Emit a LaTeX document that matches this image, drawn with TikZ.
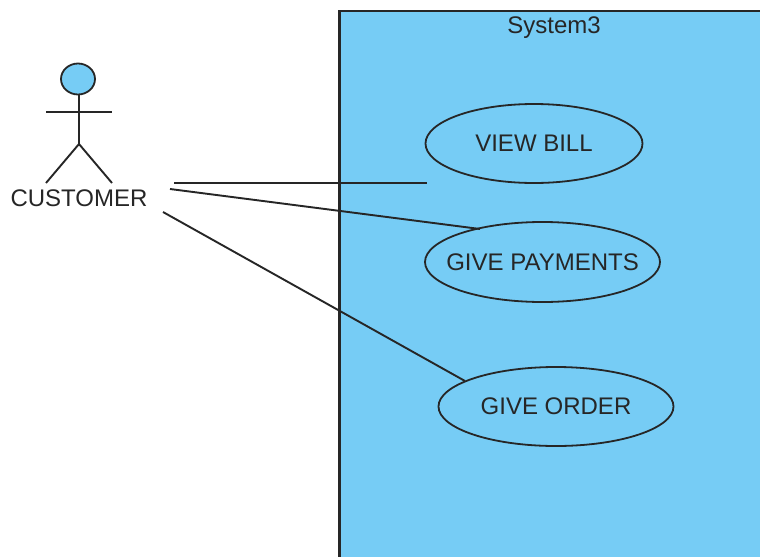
\documentclass[tikz,border=0pt]{standalone}
\usepackage{fontspec}
\setmainfont{Liberation Sans}
\usetikzlibrary{shapes.geometric}
\definecolor{sysblue}{HTML}{76CCF5}
\definecolor{ink}{HTML}{262626}
\tikzset{
  x=1pt,y=-1pt,
  usecase/.style={ellipse,draw=ink,line width=1.8pt,fill=sysblue,inner xsep=-40pt,inner ysep=0pt,font=\fontsize{24}{26}\selectfont,text=ink},
  lbl/.style={inner sep=0pt,font=\fontsize{24}{26}\selectfont,text=ink},
  link/.style={draw=ink,line width=1.9pt},
}
\begin{document}
\begin{tikzpicture}
\useasboundingbox (0,0) rectangle (760,557);
\fill[white] (0,0) rectangle (760,557);
\fill[sysblue] (339.5,11) rectangle (760,557);
\draw[draw=ink,line width=2.05pt] (760,11) -- (339.5,11) -- (339.5,557);
\node[lbl] (sys) at (554,28) {System3};
\node[usecase,minimum width=217pt,minimum height=79pt] (view) at (534,143.5) {VIEW BILL};
\node[usecase,minimum width=235pt,minimum height=80pt] (pay) at (542.5,262) {GIVE PAYMENTS};
\node[usecase,minimum width=235pt,minimum height=79pt] (order) at (556,406.5) {GIVE ORDER};
% actor
\node[ellipse,draw=ink,line width=1.8pt,fill=sysblue,minimum width=34pt,minimum height=31pt,inner sep=0pt] (head) at (78,79) {};
\coordinate (hip) at (79,144);
\coordinate (armL) at (46,112);
\coordinate (armR) at (112,112);
\coordinate (legL) at (46,183);
\coordinate (legR) at (112,183);
\draw[link] (head.south) ++(1,0) -- (hip);
\draw[link] (armL) -- (armR);
\draw[link] (legL) -- (hip) -- (legR);
\node[lbl] (cust) at (79,198.5) {CUSTOMER};
\coordinate (c1) at (174,183);
\coordinate (c2) at (170,189);
\coordinate (c3) at (163,212);
\coordinate (e1) at (427,183);
\coordinate (e2) at (480,229);
\coordinate (e3) at (465,381);
\draw[link] (c1) -- (e1);
\draw[link] (c2) -- (e2);
\draw[link] (c3) -- (e3);
\end{tikzpicture}
\end{document}
